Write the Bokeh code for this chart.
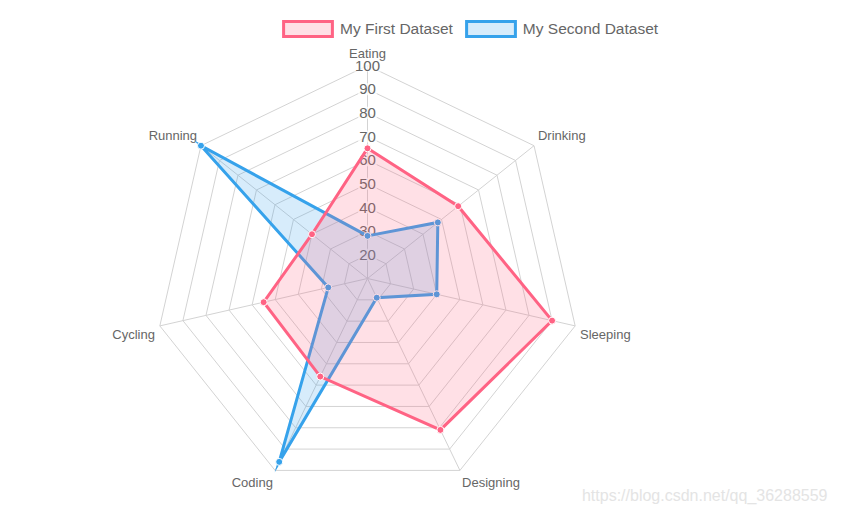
import numpy as np
from bokeh.core.properties import value
from bokeh.embed import file_html
from bokeh.models import ColumnDataSource, Label, Legend, LegendItem, Range1d
from bokeh.plotting import figure
from bokeh.resources import INLINE

# radar data
labels = ["Eating", "Drinking", "Sleeping", "Designing", "Coding", "Cycling", "Running"]
first_dataset = [65, 59, 90, 81, 56, 55, 40]
second_dataset = [28, 48, 40, 19, 96, 27, 100]
ticks = [20, 30, 40, 50, 60, 70, 80, 90, 100]
scale_min, scale_max = 10, 100

FONT = "Liberation Sans"
W, H = 828, 506
R = 213  # radius of the 100 ring in px
cx, cy = 367, 278  # centre, px from top-left of the canvas

n = len(labels)
ang = np.pi / 2 - np.arange(n) * 2 * np.pi / n


def to_xy(vals):
    r = (np.asarray(vals, dtype=float) - scale_min) / (scale_max - scale_min)
    return list(r * np.cos(ang)), list(r * np.sin(ang))


p = figure(
    width=W,
    height=H,
    x_range=Range1d(-cx / R, (W - cx) / R),
    y_range=Range1d(-(H - cy) / R, cy / R),
    x_axis_type=None,
    y_axis_type=None,
    output_backend="svg",
    toolbar_location=None,
    min_border=0,
)
p.grid.visible = False
p.outline_line_color = None

# grid rings + angle lines
ring_xs, ring_ys = [], []
for t in ticks:
    xs, ys = to_xy([t] * n)
    ring_xs.append(xs + xs[:1])
    ring_ys.append(ys + ys[:1])
p.multi_line(ring_xs, ring_ys, line_color="#d3d3d3", line_width=1)
ox, oy = to_xy([scale_max] * n)
p.segment(x0=0, y0=0, x1=ox, y1=oy, line_color="#d3d3d3", line_width=1)

# tick labels
tick_r = [(t - scale_min) / (scale_max - scale_min) for t in ticks]
p.text(
    x=0,
    y=tick_r,
    text=[str(t) for t in ticks],
    text_align="center",
    text_baseline="middle",
    text_font=value(FONT),
    text_font_size="15px",
    text_color="#666666",
    background_fill_color="white",
    background_fill_alpha=0.75,
    padding=1,
)

# point labels
deg = np.degrees(np.arange(n) * 2 * np.pi / n) % 360
aligns = ["center" if d in (0, 180) else ("left" if d < 180 else "right") for d in deg]
baselines = [
    "middle" if d in (90, 270) else ("bottom" if (d > 270 or d < 90) else "top")
    for d in deg
]
lr = 1 + 5 / R
lab_src = ColumnDataSource(
    dict(
        x=list(lr * np.cos(ang)),
        y=list(lr * np.sin(ang)),
        text=labels,
        align=aligns,
        baseline=baselines,
    )
)
p.text(
    x="x",
    y="y",
    text="text",
    text_align="align",
    text_baseline="baseline",
    source=lab_src,
    text_font=value(FONT),
    text_font_size="13px",
    text_color="#666666",
)

# datasets, last drawn first (as chart.js does)
red = "#ff6384"
blue = "#36a2eb"
x2, y2 = to_xy(second_dataset)
patch2 = p.patch(
    x2, y2, fill_color=blue, fill_alpha=0.2, line_color=blue, line_width=3,
    line_join="miter",
)
p.scatter(x2, y2, size=7, fill_color=blue, line_color="white", line_width=1)

x1, y1 = to_xy(first_dataset)
patch1 = p.patch(
    x1, y1, fill_color=red, fill_alpha=0.2, line_color=red, line_width=3,
    line_join="miter",
)
p.scatter(x1, y1, size=7, fill_color=red, line_color="white", line_width=1)

legend = Legend(
    items=[
        LegendItem(label="My First Dataset", renderers=[patch1]),
        LegendItem(label="My Second Dataset", renderers=[patch2]),
    ],
    orientation="horizontal",
    location=(277, 468),
    glyph_width=61,
    glyph_height=19,
    label_height=19,
    label_standoff=2,
    spacing=7,
    padding=0,
    margin=0,
    border_line_color=None,
    background_fill_alpha=0,
    label_text_font=FONT,
    label_text_font_size="15.5px",
    label_text_color="#666666",
)
p.add_layout(legend)

p.add_layout(
    Label(
        x=W - 1,
        y=11,
        x_units="screen",
        y_units="screen",
        text="https://blog.csdn.net/qq_36288559",
        text_align="right",
        text_baseline="middle",
        text_font=FONT,
        text_font_size="16px",
        text_color="#e4e4e4",
    )
)

open("out.html", "w").write(file_html(p, INLINE))
